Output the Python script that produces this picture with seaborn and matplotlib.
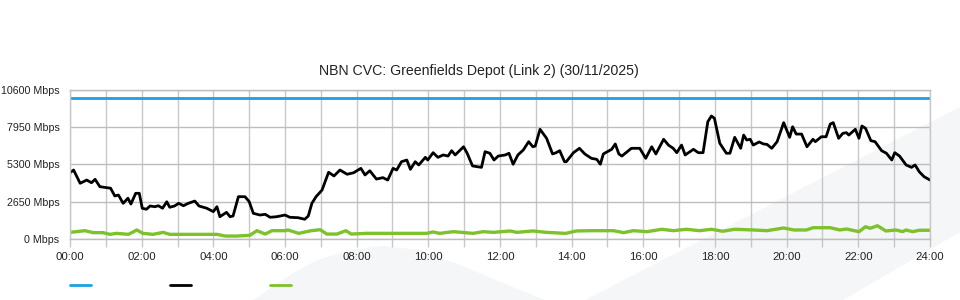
import matplotlib
matplotlib.use("Agg")
import matplotlib.pyplot as plt
import seaborn as sns
import pandas as pd
from matplotlib.patches import Polygon
from matplotlib.lines import Line2D

# ---------------- data ----------------
title = "NBN CVC: Greenfields Depot (Link 2) (30/11/2025)"
y_ticks = [0, 2650, 5300, 7950, 10600]
y_tick_labels = ["0 Mbps", "2650 Mbps", "5300 Mbps", "7950 Mbps", "10600 Mbps"]
x_tick_hours = list(range(0, 25, 2))
x_tick_labels = ["00:00", "02:00", "04:00", "06:00", "08:00", "10:00", "12:00",
                 "14:00", "16:00", "18:00", "20:00", "22:00", "24:00"]

capacity_times = ["00:00", "24:00"]
capacity_mbps = [10000, 10000]

traffic_times = [
    "00:00", "00:06", "00:17", "00:28", "00:36", "00:42", "00:50", "01:01", "01:08", "01:15",
    "01:21", "01:29", "01:37", "01:42", "01:50", "01:56", "02:01", "02:08", "02:14", "02:22",
    "02:28", "02:35", "02:42", "02:47", "02:55", "03:02", "03:10", "03:18", "03:29", "03:36",
    "03:49", "04:00", "04:06", "04:11", "04:22", "04:28", "04:33", "04:42", "04:53", "05:00",
    "05:07", "05:18", "05:27", "05:35", "05:46", "06:00", "06:08", "06:22", "06:33", "06:39",
    "06:45", "06:52", "07:02", "07:13", "07:22", "07:32", "07:44", "07:55", "08:07", "08:14",
    "08:22", "08:33", "08:44", "08:52", "09:01", "09:07", "09:15", "09:24", "09:30", "09:38",
    "09:44", "09:55", "09:59", "10:08", "10:16", "10:25", "10:33", "10:39", "10:45", "10:59",
    "11:05", "11:14", "11:29", "11:35", "11:43", "11:50", "11:57", "12:09", "12:15", "12:22",
    "12:30", "12:39", "12:48", "12:55", "12:59", "13:07", "13:18", "13:28", "13:34", "13:40",
    "13:48", "13:51", "14:03", "14:13", "14:22", "14:33", "14:42", "14:48", "14:53", "15:07",
    "15:13", "15:19", "15:24", "15:40", "15:54", "16:04", "16:14", "16:21", "16:34", "16:42",
    "16:50", "16:56", "17:04", "17:10", "17:24", "17:32", "17:40", "17:48", "17:54", "17:59",
    "18:08", "18:19", "18:25", "18:33", "18:43", "18:48", "18:53", "18:59", "19:04", "19:14",
    "19:21", "19:27", "19:35", "19:44", "19:55", "20:05", "20:10", "20:16", "20:25", "20:34",
    "20:44", "20:48", "20:58", "21:06", "21:13", "21:18", "21:27", "21:34", "21:40", "21:44",
    "21:55", "22:01", "22:06", "22:12", "22:21", "22:28", "22:39", "22:47", "22:56", "23:01",
    "23:09", "23:20", "23:29", "23:35", "23:42", "23:50", "24:00",
]
traffic_mbps = [
    4700, 4890, 3950, 4180, 3990, 4230, 3710, 3640, 3600, 3050,
    3120, 2530, 2890, 2480, 3240, 3240, 2180, 2110, 2340, 2290,
    2360, 2180, 2640, 2250, 2340, 2530, 2360, 2530, 2690, 2340,
    2180, 1940, 2290, 1580, 1890, 1580, 1630, 3000, 3000, 2650,
    1820, 1700, 1750, 1540, 1580, 1700, 1540, 1510, 1400, 1630,
    2530, 3000, 3470, 4730, 4470, 4890, 4590, 4700, 5010, 4540,
    4840, 4250, 4350, 4180, 5010, 4890, 5480, 5600, 4940, 5480,
    5250, 5790, 5600, 6120, 5790, 5960, 5880, 6260, 5960, 6540,
    6080, 5180, 5080, 6190, 6080, 5600, 5880, 5960, 6080, 5300,
    5960, 6310, 6900, 6540, 6590, 7780, 7140, 6030, 6120, 6260,
    5480, 5480, 6120, 6430, 6030, 5720, 5650, 5300, 6030, 6360,
    6740, 6030, 5880, 6430, 6430, 5720, 6540, 6030, 7070, 6660,
    6430, 6120, 6660, 5960, 6360, 6120, 6120, 8320, 8720, 8560,
    6790, 6080, 6080, 7210, 6430, 7370, 7020, 7070, 6660, 6880,
    6740, 6710, 6430, 6900, 8250, 7210, 7960, 7440, 7440, 6540,
    7070, 6900, 7250, 7250, 8150, 8250, 7140, 7490, 7540, 7370,
    7780, 7140, 8010, 7850, 6970, 6900, 6260, 6080, 5600, 6120,
    5880, 5250, 5080, 5250, 4770, 4420, 4180,
]

upload_times = [
    "00:00", "00:25", "00:39", "00:55", "01:07", "01:18", "01:38", "01:52", "02:02", "02:19",
    "02:36", "02:47", "03:10", "03:43", "04:06", "04:20", "04:39", "05:01", "05:13", "05:27",
    "05:38", "06:00", "06:05", "06:23", "06:44", "06:59", "07:10", "07:27", "07:42", "07:51",
    "08:16", "09:12", "09:57", "10:08", "10:19", "10:42", "11:15", "11:32", "11:49", "12:17",
    "12:28", "12:55", "13:18", "13:50", "14:08", "14:36", "15:10", "15:27", "15:43", "16:06",
    "16:31", "16:50", "17:12", "17:34", "17:54", "18:13", "18:33", "19:04", "19:27", "19:55",
    "20:12", "20:33", "20:44", "21:13", "21:29", "21:40", "22:01", "22:12", "22:20", "22:32",
    "22:46", "23:03", "23:14", "23:20", "23:31", "23:42", "24:00",
]
upload_mbps = [
    470, 590, 450, 450, 330, 400, 330, 640, 400, 330,
    470, 330, 330, 330, 330, 210, 210, 260, 590, 350,
    590, 590, 640, 400, 590, 660, 350, 350, 590, 350,
    400, 400, 400, 500, 400, 520, 400, 520, 470, 570,
    470, 570, 470, 400, 570, 590, 590, 450, 590, 520,
    690, 590, 690, 590, 690, 550, 690, 640, 590, 780,
    640, 640, 800, 800, 640, 710, 520, 870, 760, 940,
    570, 640, 520, 640, 520, 620, 620,
]

series_names = ["Capacity", "Traffic", "Upload"]
series_colors = ["#1ba1e2", "#000000", "#7dc12b"]


def to_hours(t):
    h, m = t.split(":")
    return int(h) + int(m) / 60.0


frames = []
for name, times, vals in zip(series_names,
                             [capacity_times, traffic_times, upload_times],
                             [capacity_mbps, traffic_mbps, upload_mbps]):
    frames.append(pd.DataFrame({"hour": [to_hours(t) for t in times],
                                "mbps": vals, "series": name}))
df = pd.concat(frames, ignore_index=True)

# ---------------- plot ----------------
sns.set_theme(style="white")
plt.rcParams["font.family"] = ["Liberation Sans", "DejaVu Sans"]

W, H = 960, 300
fig = plt.figure(figsize=(9.6, 3.0), dpi=100, facecolor="white")

# faint background watermark shapes (figure pixel coordinates -> fraction)
def fpoly(pts, color):
    p = Polygon([(x / W, 1 - y / H) for x, y in pts], closed=True,
                transform=fig.transFigure, facecolor=color, edgecolor="none",
                zorder=-10)
    fig.patches.append(p)

wm = "#f5f6f8"
fpoly([(585, 300), (960, 107), (960, 232), (843, 300)], wm)
fpoly([(253, 300), (290, 275), (317, 260), (350, 250), (383, 246), (420, 250),
       (460, 265), (520, 290), (545, 300)], wm)

ax = fig.add_axes([70 / W, 1 - 239 / H, 860 / W, 149.5 / H])
ax.set_facecolor("none")

sns.lineplot(data=df, x="hour", y="mbps", hue="series", hue_order=series_names,
             palette=series_colors, ax=ax, legend=False, sort=True,
             estimator=None, linewidth=2.0)
for line, lw in zip(ax.lines, [2.0, 2.0, 2.4]):
    line.set_linewidth(lw)
    line.set_solid_joinstyle("round")

ax.set_xlim(0, 24)
ax.set_ylim(0, 10600)
ax.set_xticks(x_tick_hours)
ax.set_xticklabels(x_tick_labels)
ax.set_xticks(range(0, 25), minor=True)
ax.set_yticks(y_ticks)
ax.set_yticklabels(y_tick_labels)
ax.set_xlabel("")
ax.set_ylabel("")

grid_col = "#c8c8c8"
ax.grid(True, axis="x", which="both", color=grid_col, linewidth=1.0)
ax.grid(True, axis="y", which="major", color="#bdbdbd", linewidth=1.0)
ax.set_axisbelow(True)
for s in ["left", "right"]:
    ax.spines[s].set_color(grid_col)
    ax.spines[s].set_linewidth(1.0)
for s in ["top", "bottom"]:
    ax.spines[s].set_color("#bdbdbd")
    ax.spines[s].set_linewidth(1.0)

ax.tick_params(axis="x", which="both", direction="out", length=6, width=1.0,
               color=grid_col, pad=3, labelsize=8.2, labelcolor="#222222",
               bottom=True)
ax.tick_params(axis="y", which="both", length=0, pad=7.5, labelsize=7.7,
               labelcolor="#222222", left=True)

fig.text(479 / W, 1 - 71 / H, title, ha="center", va="center",
         fontsize=10.2, color="#222222")

# legend swatches (no labels)
for x0, col in zip([70, 170, 270], series_colors):
    fig.add_artist(Line2D([x0 / W, (x0 + 21) / W], [1 - 285 / H, 1 - 285 / H],
                          transform=fig.transFigure, color=col, linewidth=2.0))

fig.savefig("out.png", dpi=100, facecolor="white")
